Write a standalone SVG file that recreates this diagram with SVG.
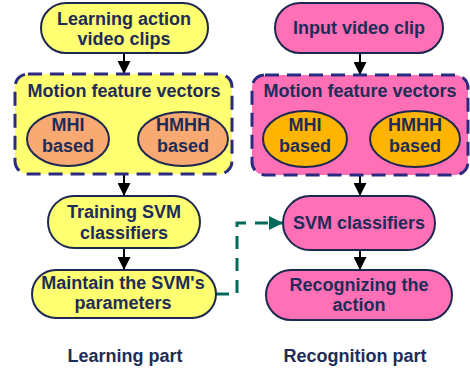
<svg xmlns="http://www.w3.org/2000/svg" width="470" height="371" viewBox="0 0 470 371">
<defs>
<style>
text{font-family:"Liberation Sans",Arial,sans-serif;font-weight:bold;font-size:18px;fill:#1E2C58;text-anchor:middle}
.y{fill:#FFFF72;stroke:#1C2850;stroke-width:2}
.p{fill:#FF70B6;stroke:#1C2850;stroke-width:2}
.dy{fill:#FFFF72;stroke:#2A2A80;stroke-width:3;stroke-dasharray:14 8}
.dp{fill:#FF70B6;stroke:#2A2A80;stroke-width:3;stroke-dasharray:14 8}
.o1{fill:#F8AA72;stroke:#1C2850;stroke-width:2}
.o2{fill:#FFB400;stroke:#1C2850;stroke-width:2}
.a{stroke:#000;stroke-width:2;fill:none;marker-end:url(#ah)}
.t{stroke:#00695A;stroke-width:3;fill:none;stroke-dasharray:13 9;marker-end:url(#th)}
</style>
<marker id="ah" markerWidth="13" markerHeight="13" refX="13" refY="6.5" orient="auto" markerUnits="userSpaceOnUse"><path d="M0,0 L13,6.5 L0,13 Z" fill="#000"/></marker>
<marker id="th" markerWidth="14" markerHeight="14" refX="14" refY="7" orient="auto" markerUnits="userSpaceOnUse"><path d="M0,0 L14,7 L0,14 Z" fill="#00695A"/></marker>
</defs>
<g id="connectors">
<path class="a" d="M124,53 V74"/>
<path class="a" d="M124,174 V196"/>
<path class="a" d="M124,248 V270"/>
<path class="a" d="M360,53 V75"/>
<path class="a" d="M360,175 V196"/>
<path class="a" d="M360,250 V270"/>
<path class="t" d="M216,294 H237 V223 H283"/>
</g>
<g id="learn-clips"><rect class="y" x="41" y="3" width="167" height="50" rx="25"/><text x="124" y="25">Learning action</text><text x="124" y="45">video clips</text></g>
<g id="learn-features"><rect class="dy" x="15" y="74" width="217" height="100" rx="13"/><text x="124" y="97">Motion feature vectors</text>
<g id="learn-mhi"><ellipse class="o1" cx="68" cy="139" rx="41" ry="27"/><text x="68" y="131">MHI</text><text x="68" y="152">based</text></g>
<g id="learn-hmhh"><ellipse class="o1" cx="183" cy="139" rx="45" ry="27"/><text x="183" y="131">HMHH</text><text x="183" y="152">based</text></g></g>
<g id="learn-train"><rect class="y" x="48" y="196" width="152" height="52" rx="26"/><text x="124" y="218">Training SVM</text><text x="124" y="239">classifiers</text></g>
<g id="learn-maintain"><rect class="y" x="32" y="270" width="184" height="48" rx="24"/><text x="123" y="289">Maintain the SVM's</text><text x="123" y="309">parameters</text></g>
<text x="125" y="362">Learning part</text>
<g id="rec-input"><rect class="p" x="275" y="3" width="168" height="50" rx="25"/><text x="359" y="34">Input video clip</text></g>
<g id="rec-features"><rect class="dp" x="252" y="75" width="216" height="100" rx="13"/><text x="360" y="97">Motion feature vectors</text>
<g id="rec-mhi"><ellipse class="o2" cx="305" cy="139" rx="42" ry="28"/><text x="305" y="131">MHI</text><text x="305" y="152">based</text></g>
<g id="rec-hmhh"><ellipse class="o2" cx="415" cy="139" rx="45" ry="28"/><text x="415" y="131">HMHH</text><text x="415" y="152">based</text></g></g>
<g id="rec-svm"><rect class="p" x="283" y="196" width="152" height="54" rx="27"/><text x="359" y="229">SVM classifiers</text></g>
<g id="rec-recog"><rect class="p" x="266" y="270" width="186" height="50" rx="25"/><text x="359" y="291">Recognizing the</text><text x="359" y="311">action</text></g>
<text x="355" y="362">Recognition part</text>
</svg>
